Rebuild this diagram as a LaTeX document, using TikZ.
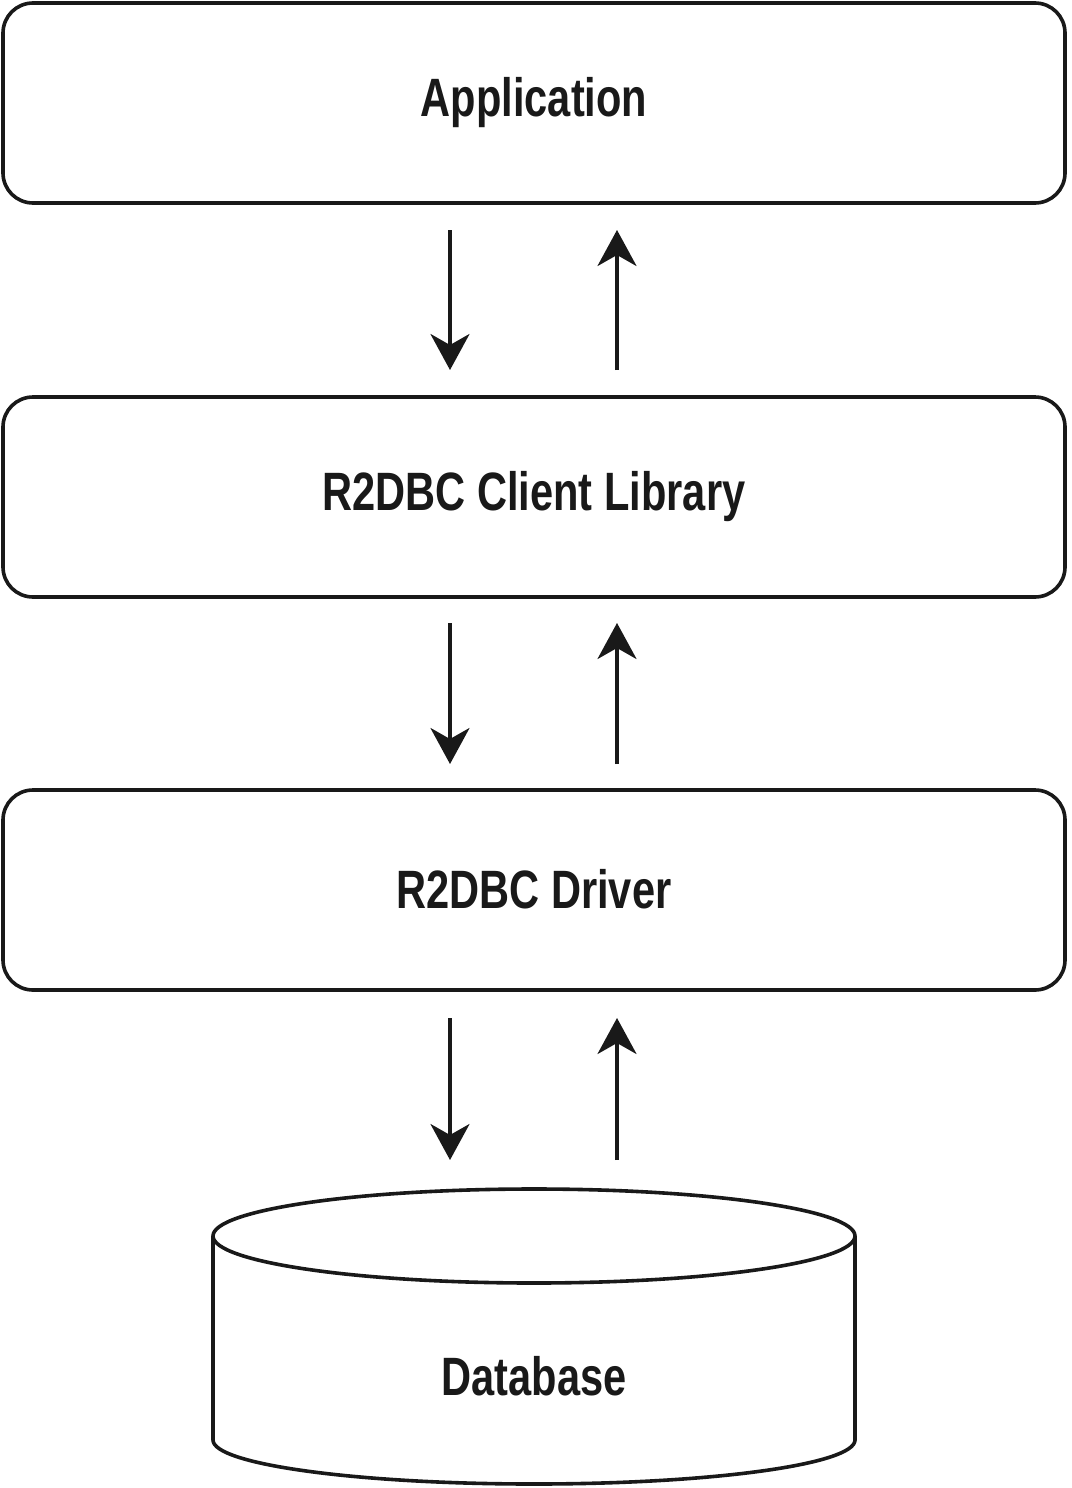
\documentclass[tikz,border=0pt]{standalone}
\usepackage{fontspec}
\newfontfamily\cond[FakeStretch=0.77]{Liberation Sans Bold}
\usetikzlibrary{arrows.meta}
\begin{document}
\begin{tikzpicture}[x=1pt,y=-1pt,
  layer/.style={draw=black!90,line width=3.6pt,rounded corners=30pt},
  lbl/.style={font=\cond\fontsize{54}{60}\selectfont,text=black!90,inner sep=0pt},
  flow/.style={draw=black!90,line width=3.6pt,-{Stealth[length=36pt,width=39pt,inset=11pt]}}]
\useasboundingbox (0,0) rectangle (1071,1488);
\fill[white] (0,0) rectangle (1071,1488);
% boxes
\draw[layer] (3,3) rectangle (1065,203);
\draw[layer] (3,397) rectangle (1065,597);
\draw[layer] (3,790) rectangle (1065,990);
\node[lbl] (app) at (534,103) {Application};
\node[lbl] (lib) at (534,497) {R2DBC Client Library};
\node[lbl] (drv) at (534,889) {R2DBC Driver};
% arrow anchor coordinates
\coordinate (a1s) at (450,230); \coordinate (a1e) at (450,370);
\coordinate (b1s) at (617,370); \coordinate (b1e) at (617,230);
\coordinate (a2s) at (450,623); \coordinate (a2e) at (450,764);
\coordinate (b2s) at (617,764); \coordinate (b2e) at (617,623);
\coordinate (a3s) at (450,1018); \coordinate (a3e) at (450,1160);
\coordinate (b3s) at (617,1160); \coordinate (b3e) at (617,1018);
\draw[flow] (a1s) -- (a1e);
\draw[flow] (b1s) -- (b1e);
\draw[flow] (a2s) -- (a2e);
\draw[flow] (b2s) -- (b2e);
\draw[flow] (a3s) -- (a3e);
\draw[flow] (b3s) -- (b3e);
% cylinder
\draw[draw=black!90,line width=3.6pt,fill=white,line join=round]
  (213,1236) -- (213,1440) arc[start angle=180,end angle=0,x radius=321,y radius=44]
  -- (855,1236);
\draw[draw=black!90,line width=3.6pt] (534,1236) ellipse[x radius=321,y radius=47];
\node[lbl] (db) at (534,1376) {Database};
\end{tikzpicture}
\end{document}
